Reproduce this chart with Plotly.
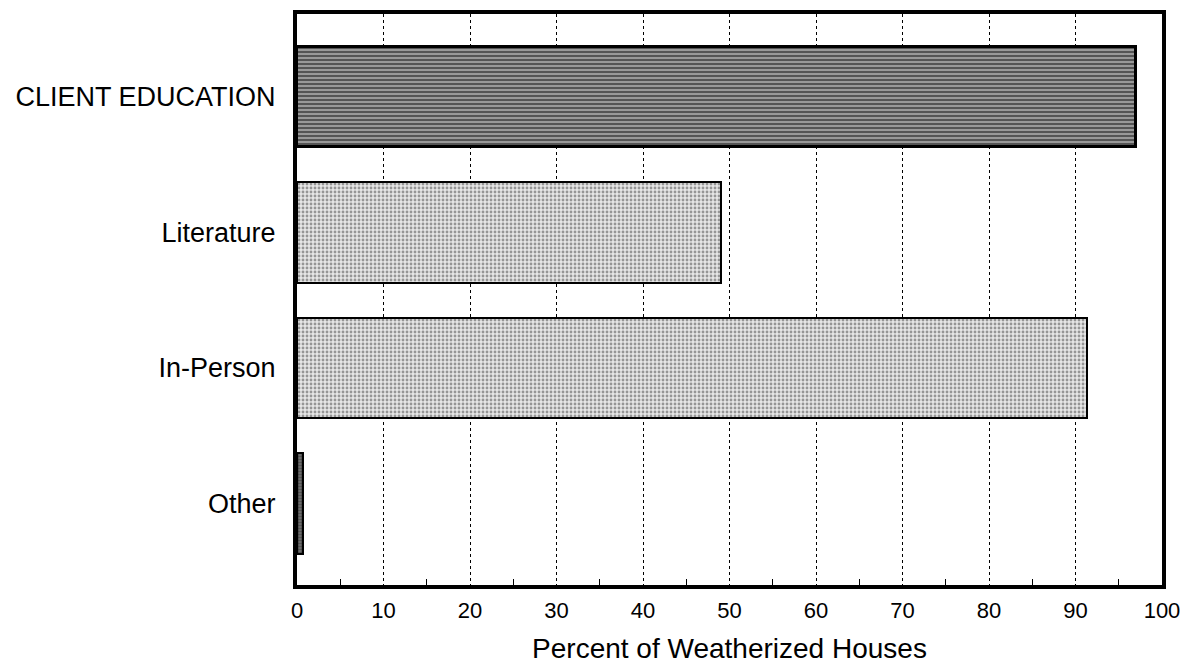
import plotly.graph_objects as go

categories = ["CLIENT EDUCATION", "Literature", "In-Person", "Other"]
percent = [97, 49, 91.3, 0.7]
x_ticks = [0, 10, 20, 30, 40, 50, 60, 70, 80, 90, 100]

# fills roughly matching the scanned textures
fills = [
    dict(shape="-", fgcolor="#111111", bgcolor="#999999", size=4, solidity=0.5),
    dict(shape=".", fgcolor="#444444", bgcolor="#e6e6e6", size=4, solidity=0.4),
    dict(shape=".", fgcolor="#444444", bgcolor="#e6e6e6", size=4, solidity=0.4),
    dict(shape=".", fgcolor="#111111", bgcolor="#777777", size=3, solidity=0.5),
]

fig = go.Figure()

for cat, val, patt in zip(categories, percent, fills):
    fig.add_trace(
        go.Bar(
            x=[val],
            y=[cat],
            orientation="h",
            width=0.74,
            marker=dict(
                color=patt["bgcolor"],
                pattern=patt,
                line=dict(color="black", width=3 if cat == "CLIENT EDUCATION" else 2),
            ),
            showlegend=False,
        )
    )

font = "Liberation Sans, Arial, sans-serif"

# page body has an 8px margin, so the figure is a bit smaller than the window
fig.update_layout(
    width=1180,
    height=656,
    plot_bgcolor="white",
    paper_bgcolor="white",
    margin=dict(l=289, r=26, t=2, b=79),
    font=dict(family=font, color="black"),
    bargap=0,
)

fig.update_xaxes(
    range=[0, 100],
    tickvals=x_ticks,
    ticktext=[str(t) for t in x_ticks],
    tickfont=dict(size=22),
    ticklabelstandoff=3,
    showgrid=True,
    gridcolor="black",
    gridwidth=1,
    griddash="dot",
    showline=True,
    linecolor="black",
    linewidth=4,
    mirror=True,
    ticks="",
    minor=dict(tickvals=[5, 15, 25, 35, 45, 55, 65, 75, 85, 95], ticks="inside",
               ticklen=6, tickcolor="black", tickwidth=1, showgrid=False),
    zeroline=False,
    title=dict(text="Percent of Weatherized Houses", font=dict(size=28), standoff=18),
)

fig.update_yaxes(
    type="category",
    categoryorder="array",
    categoryarray=categories,
    range=[3.6, -0.61],
    tickfont=dict(size=27),
    showgrid=False,
    showline=True,
    linecolor="black",
    linewidth=4,
    mirror=True,
    ticks="",
    ticklabelstandoff=12,
)

fig.write_html("out.html")
